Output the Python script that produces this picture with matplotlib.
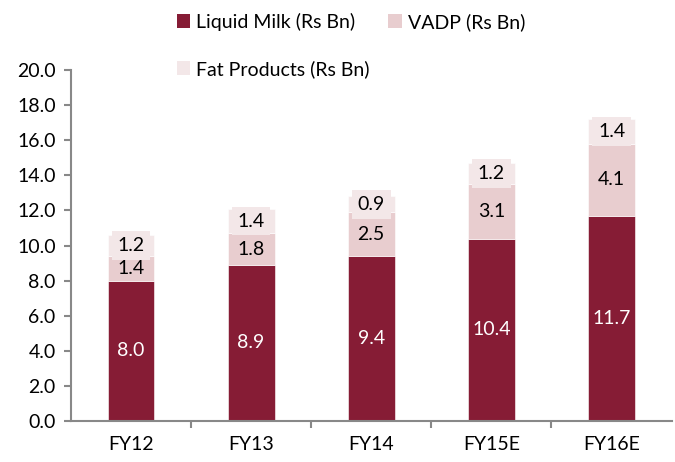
import matplotlib
matplotlib.use("Agg")
import matplotlib.pyplot as plt
import numpy as np
from matplotlib.patches import Patch

years = ["FY12", "FY13", "FY14", "FY15E", "FY16E"]
liquid_milk = [8.0, 8.9, 9.4, 10.4, 11.7]
vadp = [1.4, 1.8, 2.5, 3.1, 4.1]
fat_products = [1.2, 1.4, 0.9, 1.2, 1.4]

c_milk = "#861c35"
c_vadp = "#e8cdcf"
c_fat = "#f3e7e8"

plt.rcParams["font.family"] = ["Lato", "DejaVu Sans"]
fs = 14

fig = plt.figure(figsize=(6.75, 4.62), dpi=100)
ax = fig.add_axes([0.105, 0.089, 0.89, 0.759])

x = np.arange(len(years))
w = 0.39
milk = np.array(liquid_milk)
vd = np.array(vadp)
ft = np.array(fat_products)

ax.bar(x, milk, w, color=c_milk, edgecolor="white", linewidth=0.4, zorder=2)
ax.bar(x, vd, w, bottom=milk, color=c_vadp, edgecolor="white", linewidth=0.4, zorder=2)
ax.bar(x, ft, w, bottom=milk + vd, color=c_fat, edgecolor="white", linewidth=0.4, zorder=2)

# data labels
for i in range(len(years)):
    ax.text(x[i], milk[i] / 2, f"{milk[i]:.1f}", ha="center", va="center",
            color="white", fontsize=fs, zorder=3)
    ax.text(x[i], milk[i] + vd[i] / 2, f"{vd[i]:.1f}", ha="center", va="center",
            color="black", fontsize=fs, zorder=3,
            bbox=dict(facecolor=c_vadp, edgecolor="none", boxstyle="square,pad=0.15"))
    ax.text(x[i], milk[i] + vd[i] + ft[i] / 2, f"{ft[i]:.1f}", ha="center", va="center",
            color="black", fontsize=fs, zorder=3,
            bbox=dict(facecolor=c_fat, edgecolor="none", boxstyle="square,pad=0.3"))

ax.set_ylim(0, 20)
ax.set_xlim(-0.5, len(years) - 0.5)
ax.set_yticks(np.arange(0, 20.1, 2))
ax.set_yticklabels([f"{v:.1f}" for v in np.arange(0, 20.1, 2)], fontsize=fs)
ax.set_xticks(x)
ax.set_xticklabels(years, fontsize=fs)
ax.tick_params(axis="x", length=0, pad=11)
ax.set_xticks(np.arange(0.5, len(years) - 0.5, 1), minor=True)
ax.tick_params(axis="x", which="minor", length=5, color="#888888", width=1.5)
ax.tick_params(axis="y", length=5, color="#888888", width=1.5, pad=6)

for s in ["top", "right"]:
    ax.spines[s].set_visible(False)
for s in ["left", "bottom"]:
    ax.spines[s].set_color("#888888")
    ax.spines[s].set_linewidth(1.5)

handles = [Patch(facecolor=c_milk, label="Liquid Milk (Rs Bn)"),
           Patch(facecolor=c_fat, label="Fat Products (Rs Bn)"),
           Patch(facecolor=c_vadp, label="VADP (Rs Bn)")]
fig.legend(handles=handles, loc="upper left", bbox_to_anchor=(0.243, 1.0),
           ncol=2, frameon=False, fontsize=fs, handlelength=0.7,
           handleheight=0.7, handletextpad=0.3, labelspacing=1.5,
           columnspacing=0.95, borderaxespad=0.25)

fig.savefig("out.png", dpi=100)
